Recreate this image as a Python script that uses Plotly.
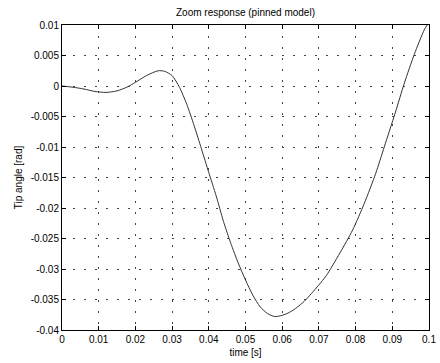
import plotly.graph_objects as go

t = [0.0, 0.003, 0.006, 0.009, 0.012, 0.015, 0.018, 0.020, 0.023, 0.0262, 0.028,
     0.030, 0.032, 0.034, 0.036, 0.038, 0.040, 0.042, 0.044, 0.046, 0.048,
     0.050, 0.052, 0.054, 0.056, 0.058, 0.060, 0.062, 0.064, 0.066, 0.068,
     0.070, 0.072, 0.0757, 0.0792, 0.0824, 0.0855, 0.0878, 0.0908, 0.0933,
     0.096, 0.0987, 0.0995]
v = [0.0, -0.0002, -0.0005, -0.0009, -0.00105, -0.0008, -0.0001, 0.0006, 0.0017,
     0.0025, 0.0024, 0.0017, -0.0002, -0.0030, -0.0065, -0.0103, -0.0142,
     -0.0180, -0.0222, -0.0258, -0.0290, -0.0318, -0.0343, -0.0362, -0.0373,
     -0.0378, -0.0376, -0.0371, -0.0363, -0.0353, -0.0340, -0.0326, -0.0311,
     -0.0274, -0.0236, -0.0192, -0.0143, -0.0100, -0.0044, 0.0005, 0.0052,
     0.0092, 0.0100]

xticks = [0, 0.01, 0.02, 0.03, 0.04, 0.05, 0.06, 0.07, 0.08, 0.09, 0.1]
xticklabels = ["0", "0.01", "0.02", "0.03", "0.04", "0.05", "0.06", "0.07", "0.08", "0.09", "0.1"]
yticks = [0.01, 0.005, 0, -0.005, -0.01, -0.015, -0.02, -0.025, -0.03, -0.035, -0.04]
yticklabels = ["0.01", "0.005", "0", "-0.005", "-0.01", "-0.015", "-0.02", "-0.025", "-0.03", "-0.035", "-0.04"]

font = "Liberation Sans, Arial, sans-serif"

fig = go.Figure()
fig.add_trace(go.Scatter(x=t, y=v, mode="lines", line=dict(color="#333", width=1, shape="spline", smoothing=0.7),
                         showlegend=False))

axis_common = dict(
    showline=True, linecolor="black", linewidth=1, mirror="ticks",
    ticks="inside", ticklen=4, tickcolor="black",
    showgrid=True, gridcolor="#444", gridwidth=1, griddash="2px,9px",
    zeroline=False, tickfont=dict(family=font, size=10, color="black"),
    ticklabeloverflow="allow",
)

fig.update_xaxes(range=[0, 0.1], tickvals=xticks, ticktext=xticklabels,
                 title=dict(text="time [s]", font=dict(family=font, size=10, color="black"), standoff=4),
                 **axis_common)
fig.update_yaxes(range=[-0.04, 0.01], tickvals=yticks, ticktext=yticklabels,
                 title=dict(text="Tip angle [rad]", font=dict(family=font, size=10, color="black"), standoff=6),
                 **axis_common)

fig.update_layout(
    width=440, height=363,
    margin=dict(l=62, r=4, t=25, b=33),
    paper_bgcolor="white", plot_bgcolor="white",
    title=dict(text="Zoom response (pinned model)", x=0.5, xref="paper", xanchor="center",
               y=1 - 12 / 363, yanchor="middle", font=dict(family=font, size=10, color="black")),
)

fig.write_html("out.html")
